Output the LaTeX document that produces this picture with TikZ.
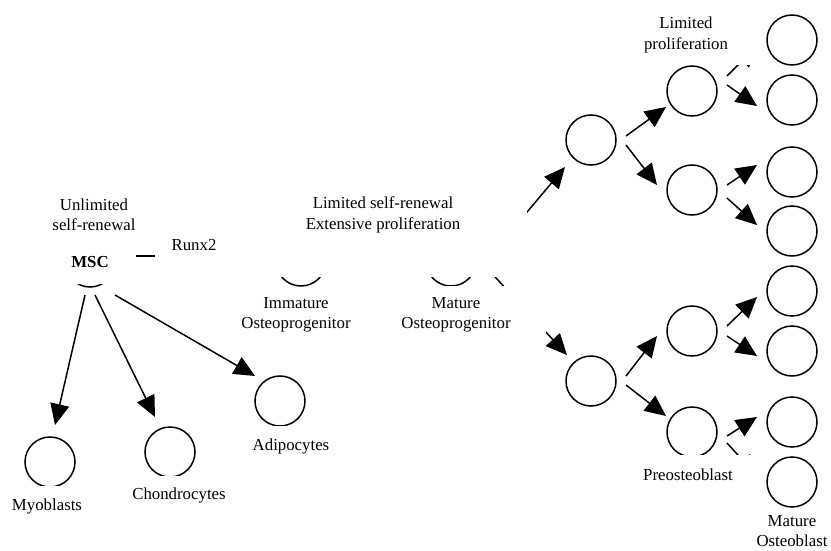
\documentclass[tikz,border=0pt]{standalone}
\usepackage{fontspec}
\setmainfont{Liberation Serif}
\usetikzlibrary{arrows.meta,calc}
\begin{document}
\begin{tikzpicture}[x=1pt,y=-1pt,
 cell/.style={circle,draw,line width=1.5pt,minimum size=50pt,inner sep=0pt},
 arr/.style={line width=1.5pt,-{Triangle[length=21pt,width=19pt]}},
 lbl/.style={align=center,inner sep=0pt,font=\fontsize{16.8}{20.5}\selectfont},
 mask/.style={fill=white}]
\useasboundingbox (0,0) rectangle (831,551);
% cells
\node[cell] (msc) at (90,262) {};
\node[cell] (imm) at (301,261) {};
\node[cell] (mat) at (451,261) {};
\node[cell] (p1) at (591,140) {};
\node[cell] (p2) at (591,381) {};
\node[cell] (q1) at (692,91) {};
\node[cell] (q2) at (692,190) {};
\node[cell] (q3) at (692,331) {};
\node[cell] (q4) at (692,432) {};
\foreach \i/\y in {1/40,2/100,3/172,4/231,5/291,6/351,7/422,8/482}
  \node[cell] (r\i) at (792,\y) {};
\node[cell] (myo) at (50,462) {};
\node[cell] (cho) at (170,452) {};
\node[cell] (adi) at (280,401) {};
% connectors
\draw[arr] ($(msc)+(-5,33)$) -- ($(myo)+(5,-37)$);
\draw[arr] ($(msc)+(5,33)$) -- ($(cho)+(-15,-35)$);
\draw[arr] ($(msc)+(25,33)$) -- ($(adi)+(-25,-25)$);
\draw[arr] ($(msc)+(25,-6)$) -- ($(imm)+(-35,-5)$);
\draw[arr] ($(imm)+(35,-5)$) -- ($(mat)+(-35,-5)$);
\draw[arr] ($(mat)+(34,1)$) -- ($(p1)+(-26,27)$);
\draw[arr] ($(mat)+(34,5)$) -- ($(p2)+(-24,-26)$);
\draw[arr] ($(p1)+(35,-4)$) -- ($(q1)+(-26,16)$);
\draw[arr] ($(p1)+(35,5)$) -- ($(q2)+(-35,-5)$);
\draw[arr] ($(p2)+(35,-5)$) -- ($(q3)+(-35,5)$);
\draw[arr] ($(p2)+(35,4)$) -- ($(q4)+(-26,-16)$);
\draw[arr] ($(q1)+(35,-15)$) -- ($(r1)+(-35,6)$);
\draw[arr] ($(q1)+(35,-6)$) -- ($(r2)+(-35,6)$);
\draw[arr] ($(q2)+(35,-5)$) -- ($(r3)+(-35,-7)$);
\draw[arr] ($(q2)+(35,8)$) -- ($(r4)+(-35,-6)$);
\draw[arr] ($(q3)+(35,-5)$) -- ($(r5)+(-35,6)$);
\draw[arr] ($(q3)+(35,5)$) -- ($(r6)+(-35,5)$);
\draw[arr] ($(q4)+(35,4)$) -- ($(r7)+(-35,-5)$);
\draw[arr] ($(q4)+(35,11)$) -- ($(r8)+(-35,-6)$);
% label boxes (white, covering)
\fill[mask] (40,185) rectangle (136,284);
\fill[mask] (155,185) rectangle (527,277);
\fill[mask] (385,286) rectangle (546,333);
\fill[mask] (5,486) rectangle (90,520);
\fill[mask] (125,476) rectangle (235,510);
\fill[mask] (245,426) rectangle (340,458);
\fill[mask] (630,455) rectangle (762,490);
\fill[mask] (630,5) rectangle (762,65.5);
% texts
\node[lbl] (tUn) at (94,215) {Unlimited\\self-renewal};
\node[lbl] (tMSC) at (90,262) {\textbf{MSC}};
\node[lbl] (tRunx) at (194,245) {Runx2};
\node[lbl] (tLim) at (383,215) {Limited self-renewal\\Extensive proliferation};
\node[lbl] (tImm) at (296,315) {Immature\\Osteoprogenitor};
\node[lbl] (tMat) at (456,315) {Mature\\Osteoprogenitor};
\node[lbl] (tLp) at (686,35) {Limited\\proliferation};
\node[lbl] (tPre) at (688,475) {Preosteoblast};
\node[lbl] (tMob) at (792,531) {Mature\\Osteoblast};
\node[lbl] (tMyo) at (47,506) {Myoblasts};
\node[lbl] (tCho) at (179,495) {Chondrocytes};
\node[lbl] (tAdi) at (291,446) {Adipocytes};
\end{tikzpicture}
\end{document}
